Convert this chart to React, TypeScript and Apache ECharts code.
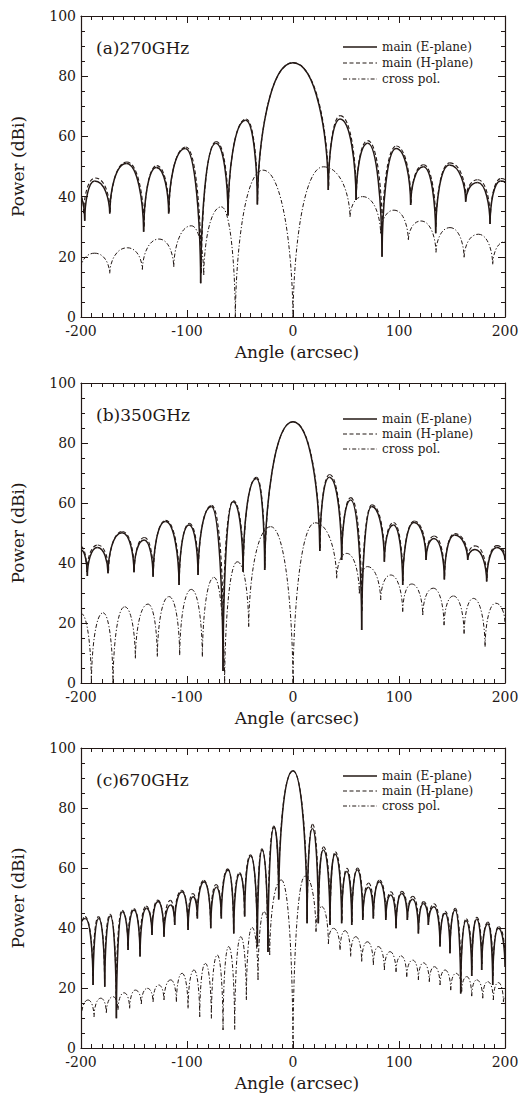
import React, { useEffect, useRef } from "react";
import * as echarts from "echarts";

// ---------- data (angle in arcsec, power in dBi) ----------
const xTicks = [-200, -100, 0, 100, 200];
const yTicks = [0, 20, 40, 60, 80, 100];
const panelLabels = ["(a)270GHz", "(b)350GHz", "(c)670GHz"];
const legendNames = ["main (E-plane)", "main (H-plane)", "cross pol."];

// (a) 270 GHz
const e270 = [[-200,39],[-196.5,32],[-187.1,45.2],[-172.9,34.4],[-157.2,51.0],[-140.9,28.3],[-128.9,49.7],[-117.3,34.4],[-101.5,56.0],[-87.1,11.2],[-72.9,57.7],[-61.3,33.7],[-44.6,65.4],[-33.6,37.4],[0,84.5],[33.3,42.2],[44.4,65.8],[59.5,38.9],[70.5,57.7],[84.0,20.0],[97.2,56.0],[111.0,37.2],[123.0,49.9],[134.6,27.8],[147.5,50.5],[162.9,38.3],[174.2,44.7],[185.9,30.9],[195.9,45.2],[200,44.5]];
const h270 = [[-200,40],[-197.5,34.5],[-186.5,46.2],[-172.5,35],[-156.8,51.5],[-140.5,30],[-128.5,50.3],[-117,35],[-101,56.5],[-86.5,14.5],[-72.5,58.3],[-61,35],[-44.2,65.8],[-33.4,38.5],[0,84.5],[33.6,43.5],[44.6,66.9],[59.8,40],[70.5,58.6],[84.3,28],[97.5,56.8],[111.3,38],[123.3,50.6],[134.9,30],[147.8,51.2],[163.2,39.5],[174.5,45.6],[186.2,32.5],[196.2,46],[200,45.5]];
const x270 = [[-200,16.2],[-187.1,21.2],[-172.9,14.5],[-156.3,23.0],[-142.1,15.8],[-126.4,25.9],[-112.5,16.7],[-95.9,30.3],[-84.2,14.0],[-67.6,36.6],[-54.4,0],[-28.3,48.8],[0,0],[28.6,49.9],[53.8,33.3],[65.8,40.0],[82.7,27.8],[95.3,35.5],[108.8,25.6],[120.8,31.9],[134.9,21.5],[148.1,29.7],[161.4,19.8],[174.9,27.5],[188.4,17.5],[200,25.0]];

// (b) 350 GHz
const e350 = [[-200,44.3],[-194,35.7],[-184.6,45.2],[-174.5,36.6],[-161.3,50.1],[-150,36.9],[-140.5,47.7],[-132,35.4],[-120.4,53.8],[-107.5,32.7],[-98.1,52.7],[-89.6,36.0],[-77.0,58.8],[-66,4],[-56.6,60.4],[-47.1,37.1],[-34.6,68.2],[-26.7,37.7],[0,87.1],[25.3,44],[34.3,68.6],[45.9,41.0],[54.4,61.0],[64.8,17.7],[74.2,58.8],[86.2,40.4],[94.7,52.7],[103.5,32.7],[114.2,53.5],[125.5,41.0],[133.0,48.2],[142.8,34.5],[152.2,49.3],[164.8,41.0],[171.7,44.5],[182.7,33.8],[192.2,45.2],[200,41.0]];
const h350 = [[-200,45.5],[-194.5,37],[-184.2,46],[-174,37.5],[-161,50.5],[-149.7,37.5],[-140.2,48.5],[-131.7,36],[-120.2,54.2],[-107.2,34],[-97.8,53.2],[-89.3,37],[-76.7,59.2],[-65.8,18],[-56.3,60.8],[-46.8,38],[-34.4,68.6],[-26.5,38.5],[0,87.1],[25.5,45],[34.5,69.5],[46.1,42],[54.6,61.8],[65,24],[74.4,59.4],[86.4,41.5],[94.9,53.5],[103.7,34],[114.4,54],[125.7,42],[133.2,49],[143,35.5],[152.4,49.8],[165,42],[171.9,45.7],[182.9,35],[192.4,45.8],[200,42]];
const x350 = [[-200,23.2],[-190.2,0],[-179.2,23.4],[-169.8,0],[-158.8,25.4],[-148.7,8.2],[-136.8,26.3],[-128,8.8],[-117,28.8],[-106.9,9.3],[-95.9,31.2],[-85.5,8.8],[-74.5,35.2],[-64.5,0],[-52.5,40.4],[-41.8,18.8],[-21.0,52.1],[0,0],[20.8,53.4],[41.2,34.9],[50.7,43.2],[62.6,29.9],[70.2,38.8],[82.7,27.7],[92.2,36.0],[103.5,23.8],[112.0,33.0],[122.4,22.7],[132.4,31.6],[142.5,19.3],[151.3,29.0],[161.4,16.5],[170.2,28.2],[181.2,12.1],[191.2,26.6],[200,20]];

// (c) 670 GHz
const e670 = [[-200,41],[-195.9,43.2],[-188.6,21.0],[-183.3,43.2],[-177.6,20.4],[-172.3,44.0],[-166.6,9.9],[-161.0,45.4],[-155.6,32.7],[-150.0,46.0],[-144.3,30.5],[-138.3,46.6],[-133.0,37.7],[-127.3,48.8],[-121.7,37.1],[-115.4,47.7],[-111.6,41.0],[-104.7,52.1],[-99.0,39.3],[-94.3,50.4],[-90.2,43.2],[-83.9,55.4],[-77.6,39.9],[-72.3,53.6],[-67.6,43.2],[-61.3,59.3],[-55.9,38.2],[-50.3,58.0],[-45.6,43.8],[-39.9,64.0],[-33.6,33.8],[-29.2,66.0],[-23.6,32],[-17.9,73.6],[-13.5,49.5],[0,92.4],[13.3,41.6],[18.3,73.2],[23.9,41.6],[28.6,66.0],[34.9,41.0],[39.7,64.6],[45.9,41.6],[50.7,58.8],[55.4,41.0],[60.7,59.3],[65.8,42.7],[71.1,53.6],[75.8,43.2],[81.5,55.4],[87.5,42.7],[92.2,51.0],[97.2,39.9],[102.5,51.5],[107.9,42.7],[112.9,49.6],[118.3,38.2],[123.0,48.2],[127.7,41.0],[133.0,47.1],[138.7,33.8],[143.4,44.9],[148.1,31.6],[152.9,46.0],[158.2,18.2],[163.2,42.4],[168.6,24],[173.3,42.9],[178.0,26],[183.7,41.3],[188.4,21],[193.7,39.9],[200,27]];
const h670 = [[-200,38],[-196.2,43.8],[-188.8,24],[-183.5,43.8],[-177.8,23],[-172.5,44.6],[-166.8,16],[-161.2,45.9],[-155.8,34],[-150.2,46.5],[-144.5,33],[-138.5,47.3],[-133.2,38.5],[-127.5,49.3],[-121.9,38],[-115.6,49.2],[-111.8,42],[-104.9,52.6],[-99.2,40.5],[-94.5,51.5],[-90.4,44],[-84.1,55.9],[-77.8,41],[-72.5,54.5],[-67.8,44],[-61.5,59.7],[-56.1,39.5],[-50.5,58.5],[-45.8,44.5],[-40.1,64.4],[-33.8,35.5],[-29.4,66.4],[-23.8,34],[-18.1,74],[-13.6,50.5],[0,92.4],[13.5,43],[18.5,74.6],[24.1,42.5],[28.8,67.1],[35.1,42],[39.9,65.4],[46.1,42.5],[50.9,59.9],[55.6,42],[60.9,60],[66,43.5],[71.3,55],[76,44],[81.7,56],[87.7,43.5],[92.4,52.1],[97.4,41],[102.7,52.2],[108.1,43.5],[113.1,50.6],[118.5,39.5],[123.2,48.8],[127.9,42],[133.2,48.1],[138.9,35],[143.6,45.6],[148.3,33],[153.1,46.6],[158.4,22],[163.4,43.1],[168.8,26],[173.5,43.6],[178.2,28],[183.9,42],[188.6,24],[193.9,40.5],[200,30]];
const x670 = [[-200,9.3],[-193.4,16.0],[-187.7,10.4],[-181.4,16.6],[-176.1,11.8],[-169.8,17.1],[-165.1,12.7],[-159.4,18.4],[-154.1,13.2],[-148.7,19.3],[-143.1,14.7],[-137.4,19.9],[-132.0,15.4],[-126.7,21.0],[-121.7,16.0],[-115.4,22.7],[-110.0,15.4],[-104.7,24.9],[-99.0,13.2],[-93.4,26.0],[-88.0,10.4],[-82.7,28.2],[-77.0,9.9],[-71.4,31.0],[-66.0,6.0],[-60.7,33.8],[-55.0,6.2],[-49.3,37.1],[-44.0,16.0],[-38.7,40.2],[-33.0,22.7],[-27.3,45.4],[-22.0,31.0],[-11.0,56.0],[0,0],[11.4,57.3],[21.7,38.8],[27.1,47.1],[33.4,34.7],[38.1,39.9],[44.4,32.7],[49.1,39.1],[54.4,30.5],[59.2,37.1],[64.8,28.8],[70.2,35.4],[75.8,27.7],[80.5,33.8],[86.2,26.0],[91.5,32.1],[97.2,25.4],[101.9,30.7],[107.3,23.8],[112.9,29.3],[118.3,22.7],[123.0,28.4],[128.6,22.1],[133.4,27.1],[138.7,21.0],[143.4,26.0],[148.8,19.3],[153.8,24.9],[159.1,18.8],[163.9,23.8],[168.6,17.3],[173.3,22.7],[179.0,16.6],[183.7,22.1],[189.0,16.0],[193.7,21.8],[198.5,15.4],[200,17]];

// ---------- layout / style ----------
const INK = "#231815";
const FONT = "'DejaVu Serif', serif";
const GRID_LEFT = 81;
const GRID_W = 424;
const panelLayout = [
  { top: 16, height: 301, legendY: [47, 63, 79] },
  { top: 383, height: 300, legendY: [419, 434, 449] },
  { top: 748, height: 300, legendY: [776, 791, 806] },
];
const seriesStyles = [
  { lineWidth: 1.5, lineDash: null as number[] | null },
  { lineWidth: 1.1, lineDash: [4, 2.5] },
  { lineWidth: 1.0, lineDash: [4, 2, 1.2, 2] },
];
const panelData = [
  [e270, h270, x270],
  [e350, h350, x350],
  [e670, h670, x670],
];

function toSegments(pts: number[][]) {
  const out: number[][] = [];
  for (let i = 0; i < pts.length - 1; i++) {
    out.push([pts[i][0], pts[i][1], pts[i + 1][0], pts[i + 1][1]]);
  }
  return out;
}

function lobeSeries(pts: number[][], axisIdx: number, st: { lineWidth: number; lineDash: number[] | null }) {
  return {
    type: "custom",
    xAxisIndex: axisIdx,
    yAxisIndex: axisIdx,
    clip: true,
    silent: true,
    dimensions: ["xa", "ya", "xb", "yb"],
    encode: { x: [0, 2], y: [1, 3] },
    data: toSegments(pts),
    renderItem: (_params: any, api: any) => {
      const a = api.coord([api.value(0), api.value(1)]);
      const b = api.coord([api.value(2), api.value(3)]);
      const aLow = a[1] >= b[1];
      const lo = aLow ? a : b;
      const hi = aLow ? b : a;
      const dx = hi[0] - lo[0];
      const dy = hi[1] - lo[1];
      const cLo = [lo[0] + 0.02 * dx, lo[1] + 0.45 * dy];
      const cHi = [lo[0] + 0.35 * dx, hi[1]];
      const c1 = aLow ? cLo : cHi;
      const c2 = aLow ? cHi : cLo;
      return {
        type: "bezierCurve",
        shape: { x1: a[0], y1: a[1], x2: b[0], y2: b[1], cpx1: c1[0], cpy1: c1[1], cpx2: c2[0], cpy2: c2[1] },
        style: { stroke: INK, fill: null, lineWidth: st.lineWidth, lineDash: st.lineDash || undefined },
      };
    },
  };
}

function buildOption() {
  const grids: any[] = [];
  const xAxes: any[] = [];
  const yAxes: any[] = [];
  const series: any[] = [];
  const graphics: any[] = [];
  const axisLine = { show: true, onZero: false, lineStyle: { color: INK, width: 1.2 } };
  const label = { color: INK, fontFamily: FONT, fontSize: 14 };

  panelLayout.forEach((p, i) => {
    grids.push({ left: GRID_LEFT, top: p.top, width: GRID_W, height: p.height, containLabel: false });
    const xBase = {
      type: "value", gridIndex: i, min: xTicks[0], max: xTicks[xTicks.length - 1], interval: 100,
      axisLine, splitLine: { show: false },
      axisTick: { show: true, inside: true, length: 7, lineStyle: { color: INK, width: 1 } },
      minorTick: { show: true, splitNumber: 10, length: 4, lineStyle: { color: INK, width: 1 } },
    };
    xAxes.push({ ...xBase, position: "bottom", axisLabel: { ...label, margin: 7 } });
    xAxes.push({ ...xBase, position: "top", axisLabel: { show: false } });
    const yBase = {
      type: "value", gridIndex: i, min: yTicks[0], max: yTicks[yTicks.length - 1], interval: 20,
      axisLine, splitLine: { show: false },
      axisTick: { show: true, inside: true, length: 7, lineStyle: { color: INK, width: 1 } },
      minorTick: { show: true, splitNumber: 4, length: 4, lineStyle: { color: INK, width: 1 } },
    };
    yAxes.push({ ...yBase, position: "left", axisLabel: { ...label, margin: 5, padding: [0, 0, 8, 0] } });
    yAxes.push({ ...yBase, position: "right", axisLabel: { show: false } });

    const axisIdx = i * 2;
    [2, 1, 0].forEach((k) => {
      series.push(lobeSeries(panelData[i][k], axisIdx, seriesStyles[k]));
    });

    graphics.push({
      type: "text", left: 96, top: p.top + 23,
      style: { text: panelLabels[i], font: `17px ${FONT}`, fill: INK },
    });
    legendNames.forEach((name, k) => {
      const y = p.legendY[k];
      graphics.push({
        type: "line",
        shape: { x1: 343, y1: y, x2: 377, y2: y },
        style: { stroke: INK, lineWidth: seriesStyles[k].lineWidth, lineDash: seriesStyles[k].lineDash || undefined },
      });
      graphics.push({
        type: "text", x: 382, y,
        style: { text: name, font: `12px ${FONT}`, fill: INK, textAlign: "left", textVerticalAlign: "middle", align: "left", verticalAlign: "middle" },
      });
    });
    graphics.push({
      type: "text", x: 18, y: p.top + p.height / 2, rotation: Math.PI / 2,
      style: { text: "Power (dBi)", font: `17px ${FONT}`, fill: INK, textAlign: "center", textVerticalAlign: "middle", align: "center", verticalAlign: "middle" },
    });
    graphics.push({
      type: "text", x: GRID_LEFT + GRID_W / 2 + 4, y: p.top + p.height + 35,
      style: { text: "Angle (arcsec)", font: `17px ${FONT}`, fill: INK, textAlign: "center", textVerticalAlign: "middle", align: "center", verticalAlign: "middle" },
    });
  });

  return {
    animation: false,
    backgroundColor: "#ffffff",
    grid: grids,
    xAxis: xAxes,
    yAxis: yAxes,
    series,
    graphic: graphics,
  };
}

export default function App() {
  const ref = useRef<HTMLDivElement>(null);
  useEffect(() => {
    if (!ref.current) return;
    const chart = echarts.init(ref.current, null, { renderer: "svg" });
    chart.setOption(buildOption() as any);
    return () => chart.dispose();
  }, []);
  return (
    <div
      ref={ref}
      style={{ position: "fixed", left: 0, top: 0, width: 522, height: 1097, background: "#fff" }}
    />
  );
}
